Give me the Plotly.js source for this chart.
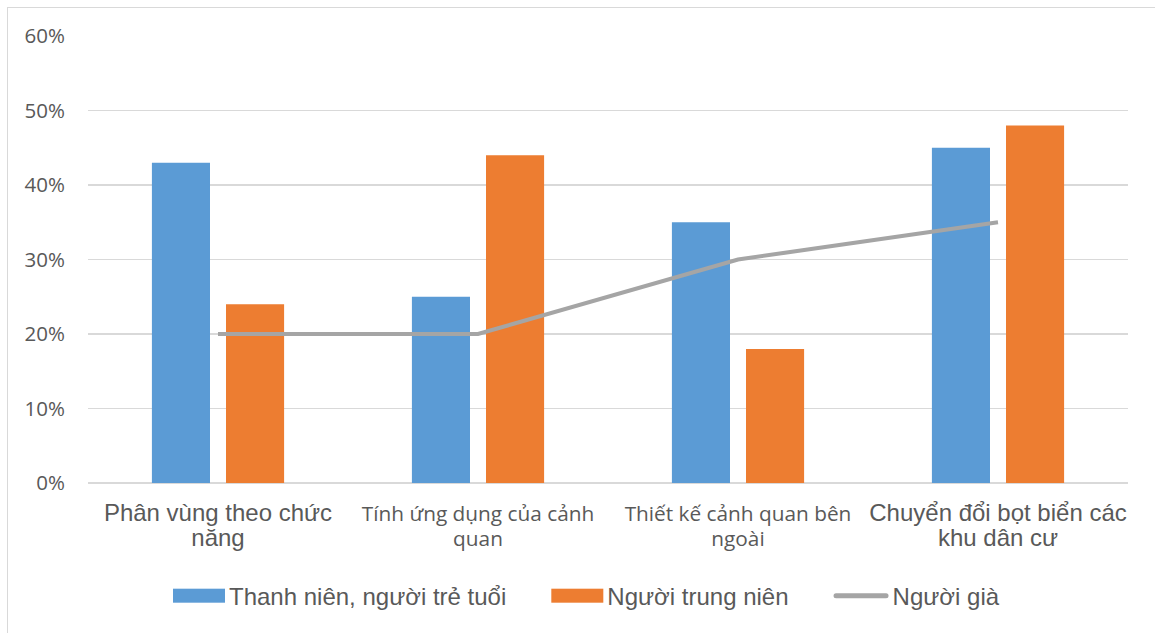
<!DOCTYPE html>
<html>
<head>
<meta charset="utf-8">
<script src="https://cdn.plot.ly/plotly-3.0.1.min.js"></script>
<style>
html,body{margin:0;padding:0;background:#fff;overflow:hidden;}
#frame{position:absolute;left:7px;top:7px;width:1200px;height:700px;border:1px solid #d9d9d9;box-sizing:border-box;}
#chart{position:absolute;left:0;top:0;width:1155px;height:633px;}
</style>
</head>
<body>
<div id="frame"></div>
<div id="chart"></div>
<script>
const categories = ["Phân vùng theo chức năng","Tính ứng dụng của cảnh quan","Thiết kế cảnh quan bên ngoài","Chuyển đổi bọt biển các khu dân cư"];
const tickLabels = [
  '<span style="font-size:24px">Phân vùng theo chức</span><br><span style="font-size:24px">năng</span>',
  '<span style="font-family:\'Open Sans\';font-size:20.8px">Tính ứng dụng của cảnh</span><br><span style="font-family:\'Open Sans\';font-size:20.8px">quan</span>',
  '<span style="font-family:\'Open Sans\';font-size:20.8px">Thiết kế cảnh quan bên</span><br><span style="font-family:\'Open Sans\';font-size:20.8px">ngoài</span>',
  '<span style="font-size:24px">Chuyển đổi bọt biển các</span><br><span style="font-size:24px">khu dân cư</span>'
];
const seriesNames = ["Thanh niên, người trẻ tuổi","Người trung niên","Người già"];
const seriesColors = ['#5b9bd5', '#ed7d31', '#a5a5a5'];
const youth = [0.43, 0.25, 0.35, 0.45];
const middleAged = [0.24, 0.44, 0.18, 0.48];
const elderly = [0.20, 0.20, 0.30, 0.35];

const traces = [
  {type:'bar', x:categories, y:youth, name:seriesNames[0], marker:{color:seriesColors[0]}},
  {type:'bar', x:categories, y:middleAged, name:seriesNames[1], marker:{color:seriesColors[1]}},
  {type:'scatter', mode:'lines', x:categories, y:elderly, name:seriesNames[2], line:{color:seriesColors[2], width:4}}
];

const layout = {
  width:1155, height:633,
  margin:{l:88, r:27, t:36, b:150},
  paper_bgcolor:'rgba(0,0,0,0)', plot_bgcolor:'rgba(0,0,0,0)',
  barmode:'group', bargap:0.43, bargroupgap:0.216,
  font:{family:'"Open Sans", "DejaVu Sans", sans-serif', color:'#595959'},
  xaxis:{
    tickvals:categories, ticktext:tickLabels, tickangle:0,
    showgrid:false, zeroline:false, showline:false, ticks:'',
    tickfont:{family:'"Liberation Sans", Arial, sans-serif', size:19.5, color:'#595959'},
    ticklabelstandoff:17
  },
  yaxis:{
    range:[0,0.6], dtick:0.1, tickformat:'.0%',
    showgrid:true, gridcolor:'#d9d9d9', gridwidth:1.3,
    zeroline:true, zerolinecolor:'#d9d9d9', zerolinewidth:1.3,
    showline:false, ticks:'',
    tickfont:{family:'"Open Sans", sans-serif', size:20.5, color:'#595959'},
    ticklabelstandoff:22
  },
  showlegend:true,
  legend:{
    orientation:'h', x:0.08, xanchor:'left', y:-0.253, yanchor:'middle',
    font:{family:'"Liberation Sans", Arial, sans-serif', size:24, color:'#595959'},
    itemwidth:30, tracegroupgap:0, traceorder:'normal'
  }
};

Plotly.newPlot('chart', traces, layout, {displayModeBar:false, staticPlot:true}).then(function(gd){
  // Wide rectangular legend swatches as in the original chart
  const NS = 'http://www.w3.org/2000/svg';
  const legendG = gd.querySelector('.legend');
  legendG.querySelectorAll('[clip-path]').forEach(function(el){ el.removeAttribute('clip-path'); });
  const groups = legendG.querySelectorAll('.traces');
  const legendX = legendG.getCTM().e;
  let x = 173 - legendX;
  groups.forEach(function(g, i){
    const t = g.querySelector('text.legendtext');
    const w = t.getComputedTextLength();
    const sym = g.querySelector('.legendsymbols');
    if (sym) sym.style.display = 'none';
    const lines = g.querySelector('.legendlines');
    if (lines) lines.style.display = 'none';
    const r = document.createElementNS(NS, 'rect');
    let sw;
    if (i < 2) {
      sw = 52;
      r.setAttribute('x', 0); r.setAttribute('y', -7);
      r.setAttribute('width', sw); r.setAttribute('height', 14);
    } else {
      sw = 55;
      r.setAttribute('x', 0); r.setAttribute('y', -2.5);
      r.setAttribute('width', sw); r.setAttribute('height', 5);
      r.setAttribute('rx', 2.5);
    }
    t.setAttribute('x', sw + 4);
    r.setAttribute('fill', seriesColors[i]);
    g.insertBefore(r, g.firstChild);
    const m = (g.getAttribute('transform') || '').match(/translate\(([^,\s]+)[,\s]+([^)]+)\)/);
    const y = m ? parseFloat(m[2]) : 0;
    g.setAttribute('transform', 'translate(' + x + ',' + y + ')');
    x += sw + 4 + w + 45;
  });
});
</script>
</body>
</html>
